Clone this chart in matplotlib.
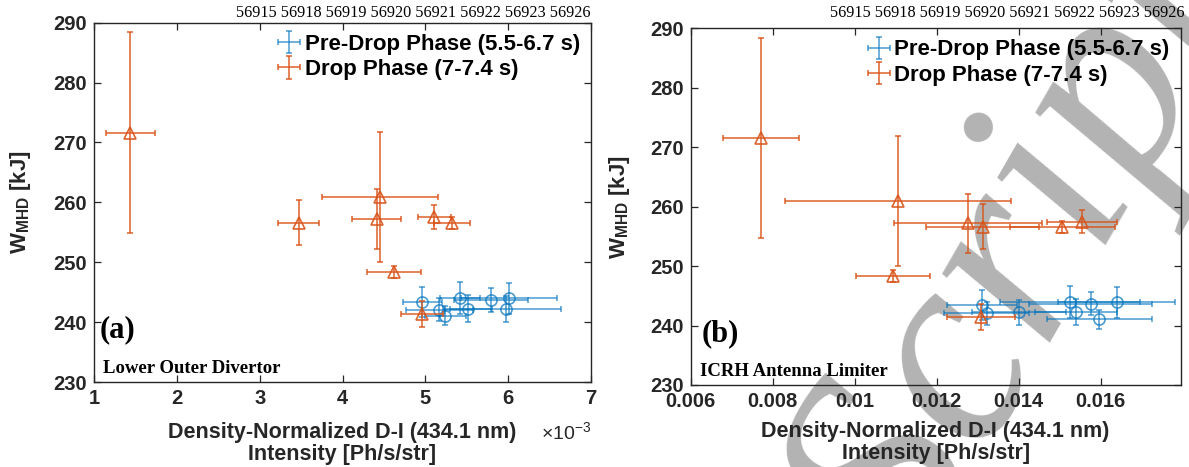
import numpy as np
import matplotlib
matplotlib.use("Agg")
import matplotlib.pyplot as plt

plt.rcParams['font.family'] = ['Liberation Sans', 'DejaVu Sans']
plt.rcParams['mathtext.fontset'] = 'custom'
plt.rcParams['mathtext.rm'] = 'Liberation Sans'
plt.rcParams['mathtext.bf'] = 'Liberation Sans:bold'
plt.rcParams['mathtext.it'] = 'Liberation Sans:italic'

# W_MHD values (kJ), shared by both panels
W_pre = [243.4, 242.05, 241.05, 244.0, 242.25, 243.7, 242.2, 243.95]
W_pre_err = [2.5, 1.9, 1.6, 2.7, 2.2, 2.0, 2.1, 2.6]
W_drop = [271.6, 256.6, 260.9, 257.2, 257.5, 256.6, 248.4, 241.4]
W_drop_err = [16.8, 3.8, 10.9, 5.0, 2.0, 1.0, 1.0, 2.2]

# (a) lower outer divertor, x in units of 1e-3
x_pre_lod = [4.965, 5.17, 5.24, 5.42, 5.51, 5.79, 5.97, 6.01]
x_pre_lod_err = [0.24, 0.41, 0.25, 0.24, 0.3, 0.45, 0.67, 0.58]
x_drop_lod = [1.44, 3.47, 4.45, 4.41, 5.11, 5.32, 4.62, 4.96]
x_drop_lod_err = [0.29, 0.25, 0.7, 0.3, 0.2, 0.22, 0.33, 0.25]

# (b) ICRH antenna limiter
x_pre_icrh = [0.0131, 0.01322, 0.01597, 0.01525, 0.0154, 0.01576, 0.01401, 0.01639]
x_pre_icrh_err = [0.00085, 0.00103, 0.00129, 0.00171, 0.001, 0.0015, 0.00114, 0.00142]
x_drop_icrh = [0.00772, 0.01312, 0.01106, 0.01277, 0.01554, 0.01506, 0.01093, 0.01307]
x_drop_icrh_err = [0.00092, 0.00137, 0.00275, 0.0018, 0.00086, 0.00128, 0.0009, 0.00083]

shots = "56915 56918 56919 56920 56921 56922 56923 56926"
lod_ticks = [1, 2, 3, 4, 5, 6, 7]
icrh_ticks = [0.006, 0.008, 0.01, 0.012, 0.014, 0.016]
w_ticks = [230, 240, 250, 260, 270, 280, 290]

blue = '#0072BD'
orange = '#D95319'
axcol = '#262626'

fig = plt.figure(figsize=(11.89, 4.67), dpi=100)
fig.patch.set_facecolor('white')

# watermark behind everything
fig.text(1020 / 1189, 1 - 255 / 467, 'Script', fontsize=200, family='Liberation Serif',
         style='italic', color='#b3b3b3', rotation=60, ha='center', va='center', zorder=-1)

ax1 = fig.add_axes([0.0791, 0.1820, 0.4180, 0.7694])
ax2 = fig.add_axes([0.5809, 0.1756, 0.4121, 0.7638])


def draw_panel(ax, xp, xpe, xd, xde):
    hp = ax.errorbar(xp, W_pre, xerr=xpe, yerr=W_pre_err, fmt='none', ecolor=blue,
                     elinewidth=1.2, capsize=2.5, capthick=1.2, alpha=0.65)
    ax.plot(xp, W_pre, 'o', mfc='none', mec=blue, ms=8, mew=1.2, alpha=0.7)
    hd = ax.errorbar(xd, W_drop, xerr=xde, yerr=W_drop_err, fmt='none', ecolor=orange,
                     elinewidth=1.2, capsize=2.5, capthick=1.2, alpha=0.85)
    ax.plot(xd, W_drop, '^', mfc='none', mec=orange, ms=8.5, mew=1.2, alpha=0.9)
    ax.set_facecolor('none')
    ax.set_ylim(230, 290)
    ax.set_yticks(w_ticks)
    for s in ax.spines.values():
        s.set_color(axcol)
        s.set_linewidth(1.0)
    ax.tick_params(direction='in', top=True, right=True, length=5, width=0.9,
                   colors=axcol, labelsize=14.5, pad=5)
    for lab in ax.get_xticklabels() + ax.get_yticklabels():
        lab.set_fontweight('bold')
    ax.set_ylabel(r'$\mathbf{W}_{\mathbf{MHD}}$ [kJ]', fontsize=16, fontweight='bold', color=axcol)
    ax.set_xlabel('Density-Normalized D-I (434.1 nm)\nIntensity [Ph/s/str]',
                  fontsize=15.5, fontweight='bold', color=axcol, linespacing=1.1)
    leg = ax.legend([hp, hd], ['Pre-Drop Phase (5.5-6.7 s)', 'Drop Phase (7-7.4 s)'],
                    loc='upper right', frameon=False, prop={'size': 16, 'weight': 'bold'},
                    handlelength=0.7, handletextpad=0.35, labelspacing=0.2,
                    borderaxespad=0.2, borderpad=0.3)
    return leg


draw_panel(ax1, x_pre_lod, x_pre_lod_err, x_drop_lod, x_drop_lod_err)
ax1.set_xlim(1, 7)
ax1.set_xticks(lod_ticks)
ax1.set_xticklabels([str(t) for t in lod_ticks], fontweight='bold')
ax1.yaxis.set_label_coords(-0.122, 0.5)
ax1.xaxis.set_label_coords(0.5, -0.11)
ax1.text(1.0, -0.139, r'$\times10^{-3}$', transform=ax1.transAxes, ha='right', va='center',
         fontsize=14, color=axcol)
ax1.text(0.012, 0.145, '(a)', transform=ax1.transAxes, family='Liberation Serif',
         fontweight='bold', fontsize=22, va='center', ha='left')
ax1.text(0.018, 0.025, 'Lower Outer Divertor', transform=ax1.transAxes,
         family='Liberation Serif', fontweight='bold', fontsize=13.5, va='baseline')

draw_panel(ax2, x_pre_icrh, x_pre_icrh_err, x_drop_icrh, x_drop_icrh_err)
ax2.set_xlim(0.006, 0.01795)
ax2.set_xticks(icrh_ticks)
ax2.set_xticklabels(['0.006', '0.008', '0.01', '0.012', '0.014', '0.016'], fontweight='bold')
ax2.yaxis.set_label_coords(-0.12, 0.5)
ax2.xaxis.set_label_coords(0.5, -0.10)
ax2.text(0.022, 0.145, '(b)', transform=ax2.transAxes, family='Liberation Serif',
         fontweight='bold', fontsize=22, va='center', ha='left')
ax2.text(0.018, 0.025, 'ICRH Antenna Limiter', transform=ax2.transAxes,
         family='Liberation Serif', fontweight='bold', fontsize=13.5, va='baseline')

# shot numbers above each panel
fig.text(590 / 1189, 1 - 13 / 467, shots, family='Liberation Serif', fontsize=11.7,
         ha='right', va='center')
fig.text(1185 / 1189, 1 - 13 / 467, shots, family='Liberation Serif', fontsize=11.7,
         ha='right', va='center')

fig.savefig('out.png', dpi=100, facecolor='white')
